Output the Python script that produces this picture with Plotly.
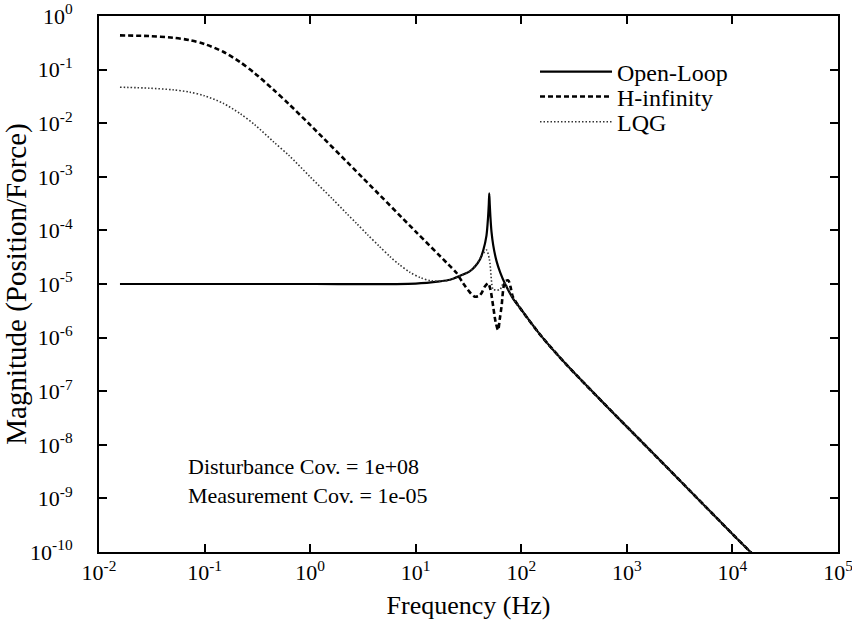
import plotly.graph_objects as go

# ---- Data ----
freq_open = [0.0158, 0.1, 1.0, 10.0, 16.9, 21.1, 26.3, 32.4, 36.3, 40.7, 43.7, 46.8,
             48.4, 49.2, 49.7, 50.3, 51.0, 52.2, 54.3, 58.2, 63.1, 70.0, 84.1, 97.0,
             150.0, 269.0, 646.0, 1148.0, 3388.0, 10160.0, 15136.0, 20000.0]
mag_open = [1.0e-5, 1.0e-5, 1.0e-5, 1.02e-5, 1.12e-5, 1.2e-5, 1.42e-5, 1.72e-5, 2.1e-5,
            2.9e-5, 4.3e-5, 8.0e-5, 1.7e-4, 3.0e-4, 4.9e-4, 3.0e-4, 1.8e-4, 9.5e-5,
            5.2e-5, 2.7e-5, 1.65e-5, 1.02e-5, 5.2e-6, 3.6e-6, 1.15e-6, 3.1e-7, 5.2e-8,
            1.65e-8, 1.9e-9, 2.1e-10, 9.6e-11, 5.5e-11]

freq_hinf = [0.0158, 0.03, 0.05, 0.072, 0.1, 0.15, 0.216, 0.3, 0.45, 0.63, 1.0, 3.16,
             10.0, 20.0, 24.4, 28.2, 33.0, 36.3, 39.8, 42.1, 45.0, 48.6, 51.0, 54.2,
             57.0, 60.3, 62.5, 65.0, 70.0, 75.2, 79.0, 83.2, 97.0, 150.0, 269.0, 646.0,
             1148.0, 3388.0, 10160.0, 15136.0, 20000.0]
mag_hinf = [0.435, 0.422, 0.394, 0.355, 0.30, 0.215, 0.139, 0.085, 0.042, 0.0227,
            9.3e-3, 9.5e-4, 9.5e-5, 2.4e-5, 1.6e-5, 1.02e-5, 6.8e-6, 5.8e-6, 6.0e-6,
            6.8e-6, 8.9e-6, 1.02e-5, 7.9e-6, 3.8e-6, 2.0e-6, 1.38e-6, 2.2e-6, 3.8e-6,
            1.1e-5, 1.17e-5, 8.9e-6, 5.8e-6, 3.6e-6, 1.15e-6, 3.1e-7, 5.2e-8, 1.65e-8,
            1.9e-9, 2.1e-10, 9.6e-11, 5.5e-11]

freq_lqg = [0.0158, 0.03, 0.05, 0.072, 0.1, 0.15, 0.216, 0.3, 0.45, 0.63, 1.0, 1.6,
            2.2, 2.75, 3.5, 4.5, 5.7, 7.0, 8.8, 11.2, 14.0, 18.0, 21.1, 26.3, 32.4,
            38.0, 42.0, 46.8, 50.0, 54.2, 57.0, 62.7, 67.5, 70.0, 84.1, 97.0, 150.0,
            269.0, 646.0, 1148.0, 3388.0, 10160.0, 15136.0, 20000.0]
mag_lqg = [0.047, 0.045, 0.042, 0.038, 0.0325, 0.0235, 0.0152, 9.3e-3, 4.5e-3, 2.5e-3,
           1.0e-3, 4.0e-4, 2.1e-4, 1.35e-4, 8.3e-5, 5.1e-5, 3.25e-5, 2.3e-5, 1.66e-5,
           1.3e-5, 1.15e-5, 1.13e-5, 1.2e-5, 1.42e-5, 1.72e-5, 2.4e-5, 3.3e-5, 4.3e-5,
           2.8e-5, 7.8e-6, 7.8e-6, 7.8e-6, 1.02e-5, 1.02e-5, 5.2e-6, 3.6e-6, 1.15e-6,
           3.1e-7, 5.2e-8, 1.65e-8, 1.9e-9, 2.1e-10, 9.6e-11, 5.5e-11]

x_tickvals = [1e-2, 1e-1, 1e0, 1e1, 1e2, 1e3, 1e4, 1e5]
x_ticktext = ["10<sup>-2</sup>", "10<sup>-1</sup>", "10<sup>0</sup>", "10<sup>1</sup>",
              "10<sup>2</sup>", "10<sup>3</sup>", "10<sup>4</sup>", "10<sup>5</sup>"]
y_tickvals = [1e0, 1e-1, 1e-2, 1e-3, 1e-4, 1e-5, 1e-6, 1e-7, 1e-8, 1e-9, 1e-10]
y_ticktext = ["10<sup>0</sup>", "10<sup>-1</sup>", "10<sup>-2</sup>", "10<sup>-3</sup>",
              "10<sup>-4</sup>", "10<sup>-5</sup>", "10<sup>-6</sup>", "10<sup>-7</sup>",
              "10<sup>-8</sup>", "10<sup>-9</sup>", "10<sup>-10</sup>"]

FONT = "Liberation Serif"

fig = go.Figure()
fig.add_trace(go.Scatter(x=freq_open, y=mag_open, mode="lines", name="Open-Loop",
                         line=dict(color="black", width=2.2, shape="spline", smoothing=0.8),
                         legend="legend"))
fig.add_trace(go.Scatter(x=freq_hinf, y=mag_hinf, mode="lines", name="H-infinity",
                         line=dict(color="black", width=2.6, dash="5px,3px",
                                   shape="spline", smoothing=0.8),
                         legend="legend2"))
fig.add_trace(go.Scatter(x=freq_lqg, y=mag_lqg, mode="lines", name="LQG",
                         line=dict(color="#333333", width=1.6, dash="1.5px,2px",
                                   shape="spline", smoothing=0.8),
                         legend="legend3"))

leg_common = dict(x=0.590, xanchor="left", yanchor="middle",
                  font=dict(family=FONT, size=24, color="black"),
                  bgcolor="rgba(0,0,0,0)", itemwidth=72)

fig.update_layout(
    width=852, height=632,
    margin=dict(l=99, r=14, t=16, b=80),
    paper_bgcolor="white", plot_bgcolor="white",
    font=dict(family=FONT, color="black", size=22),
    showlegend=True,
    legend=dict(y=0.8955, **leg_common),
    legend2=dict(y=0.849, **leg_common),
    legend3=dict(y=0.802, **leg_common),
    annotations=[
        dict(x=0.118, y=0.132, xref="paper", yref="paper", xanchor="left", yanchor="middle",
             text="Disturbance Cov. = 1e+08<br>Measurement Cov. = 1e-05",
             showarrow=False, align="left",
             font=dict(family=FONT, size=22, color="black")),
    ],
)
fig.update_xaxes(type="log", range=[-2, 5], tickvals=x_tickvals, ticktext=x_ticktext,
                 ticks="inside", ticklen=8, tickwidth=1.5, tickcolor="black",
                 showline=True, linewidth=2, linecolor="black", mirror="ticks",
                 showgrid=False, zeroline=False, automargin=False,
                 ticklabeloverflow="allow",
                 tickfont=dict(family=FONT, size=22),
                 title=dict(text="Frequency (Hz)", font=dict(family=FONT, size=26), standoff=11))
fig.update_yaxes(type="log", range=[-10, 0], tickvals=y_tickvals, ticktext=y_ticktext,
                 ticks="inside", ticklen=8, tickwidth=1.5, tickcolor="black",
                 showline=True, linewidth=2, linecolor="black", mirror="ticks",
                 showgrid=False, zeroline=False, automargin=False,
                 ticklabeloverflow="allow",
                 tickfont=dict(family=FONT, size=22), ticklabelstandoff=20,
                 title=dict(text="Magnitude (Position/Force)", font=dict(family=FONT, size=29),
                            standoff=8))

fig.write_html("out.html")
